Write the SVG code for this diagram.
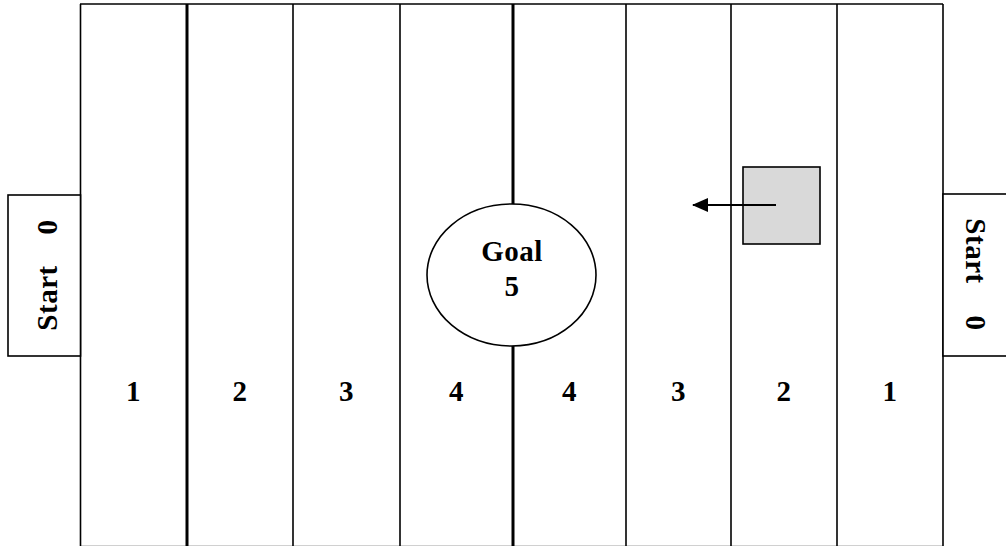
<svg xmlns="http://www.w3.org/2000/svg" width="1006" height="546" viewBox="0 0 1006 546">
<style>
.ln{stroke:#000;stroke-width:1.6;fill:none}
.box{stroke:#000;stroke-width:1.6;fill:#fff}
.grey{stroke:#000;stroke-width:1.6;fill:#d9d9d9}
.thick{stroke:#000;stroke-width:3;fill:none}
.t{font-family:"Liberation Serif","Times New Roman",serif;font-weight:bold;font-size:29px;fill:#000;text-anchor:middle;letter-spacing:0.5px}
</style>
<defs>
<marker id="ah" markerWidth="16" markerHeight="14" refX="15" refY="7" orient="auto" markerUnits="userSpaceOnUse">
<path d="M0,0 L16,7 L0,14 Z" fill="#000"/>
</marker>
</defs>
<rect width="1006" height="546" fill="#fff"/>
<g id="field">
<line class="ln" x1="80" y1="4" x2="943" y2="4"/>
<line x1="80" y1="545.5" x2="943" y2="545.5" stroke="#d0d0d0" stroke-width="1"/>
<line class="ln" x1="80.5" y1="4" x2="80.5" y2="546"/>
<line class="thick" x1="187" y1="4" x2="187" y2="546"/>
<line class="ln" x1="293" y1="4" x2="293" y2="546"/>
<line class="ln" x1="400" y1="4" x2="400" y2="546"/>
<line class="thick" x1="513" y1="4" x2="513" y2="546"/>
<line class="ln" x1="626" y1="4" x2="626" y2="546"/>
<line class="ln" x1="731" y1="4" x2="731" y2="546"/>
<line class="ln" x1="837" y1="4" x2="837" y2="546"/>
<line class="ln" x1="943" y1="4" x2="943" y2="546"/>
</g>
<g id="numbers">
<text class="t" x="133.5" y="401">1</text>
<text class="t" x="240" y="401">2</text>
<text class="t" x="346.5" y="401">3</text>
<text class="t" x="456.5" y="401">4</text>
<text class="t" x="569.5" y="401">4</text>
<text class="t" x="678.5" y="401">3</text>
<text class="t" x="784" y="401">2</text>
<text class="t" x="890" y="401">1</text>
</g>
<g id="start-left">
<rect class="box" x="8" y="195" width="72.5" height="161"/>
<text class="t" transform="translate(57,298) rotate(-90)">Start</text>
<text class="t" transform="translate(57,227) rotate(-90)">0</text>
</g>
<g id="start-right">
<rect class="box" x="943" y="194" width="70" height="162"/>
<text class="t" transform="translate(966,251) rotate(90)">Start</text>
<text class="t" transform="translate(966,323) rotate(90)">0</text>
</g>
<g id="goal">
<ellipse class="box" cx="511.5" cy="275" rx="84.5" ry="71"/>
<text class="t" x="512" y="261">Goal</text>
<text class="t" x="512" y="296">5</text>
</g>
<g id="block">
<rect class="grey" x="743" y="167" width="77" height="77"/>
</g>
<g id="connectors">
<line x1="776" y1="205" x2="693" y2="205" stroke="#000" stroke-width="2" marker-end="url(#ah)"/>
</g>
</svg>
